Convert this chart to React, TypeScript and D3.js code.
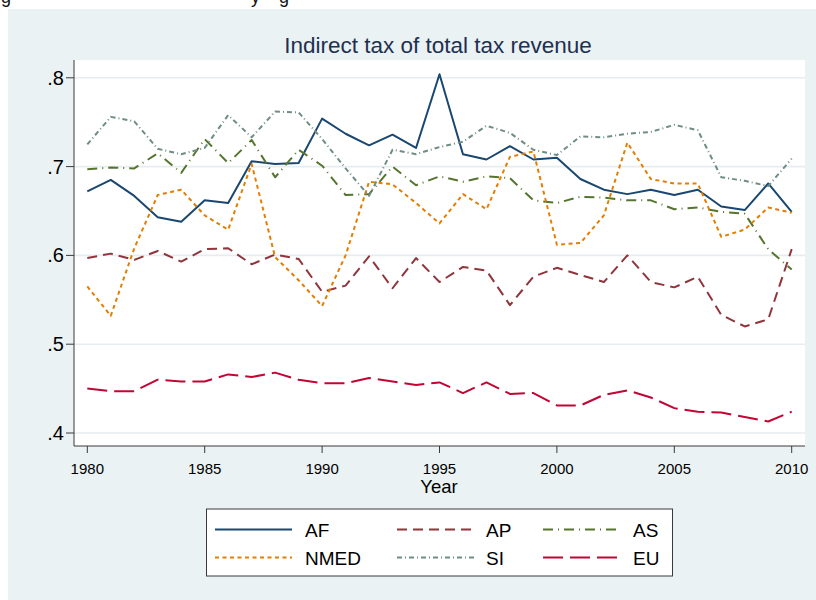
import React from 'react';
import * as d3 from 'd3';

const years = [1980, 1981, 1982, 1983, 1984, 1985, 1986, 1987, 1988, 1989, 1990, 1991, 1992, 1993, 1994, 1995, 1996, 1997, 1998, 1999, 2000, 2001, 2002, 2003, 2004, 2005, 2006, 2007, 2008, 2009, 2010];

const AF = [0.672, 0.685, 0.667, 0.643, 0.638, 0.662, 0.659, 0.706, 0.703, 0.704, 0.754, 0.737, 0.724, 0.736, 0.721, 0.804, 0.714, 0.708, 0.723, 0.708, 0.710, 0.686, 0.674, 0.669, 0.674, 0.668, 0.674, 0.655, 0.651, 0.681, 0.649];
const AP = [0.597, 0.602, 0.595, 0.605, 0.593, 0.607, 0.608, 0.590, 0.601, 0.596, 0.559, 0.566, 0.599, 0.563, 0.597, 0.570, 0.587, 0.583, 0.544, 0.576, 0.586, 0.578, 0.570, 0.600, 0.570, 0.564, 0.576, 0.533, 0.520, 0.528, 0.607];
const AS = [0.697, 0.699, 0.698, 0.715, 0.693, 0.731, 0.704, 0.730, 0.688, 0.719, 0.701, 0.668, 0.669, 0.700, 0.679, 0.689, 0.683, 0.689, 0.687, 0.662, 0.659, 0.666, 0.665, 0.662, 0.662, 0.652, 0.654, 0.649, 0.647, 0.607, 0.584];
const NMED = [0.565, 0.532, 0.608, 0.668, 0.674, 0.645, 0.629, 0.703, 0.598, 0.572, 0.543, 0.600, 0.683, 0.680, 0.659, 0.636, 0.669, 0.652, 0.711, 0.717, 0.612, 0.614, 0.645, 0.727, 0.686, 0.681, 0.681, 0.621, 0.629, 0.654, 0.648];
const SI = [0.725, 0.756, 0.751, 0.720, 0.714, 0.721, 0.758, 0.733, 0.762, 0.761, 0.731, 0.698, 0.667, 0.719, 0.714, 0.722, 0.728, 0.746, 0.738, 0.719, 0.713, 0.734, 0.733, 0.737, 0.739, 0.747, 0.741, 0.688, 0.684, 0.678, 0.709];
const EU = [0.450, 0.447, 0.447, 0.460, 0.458, 0.458, 0.466, 0.463, 0.468, 0.460, 0.456, 0.456, 0.462, 0.458, 0.454, 0.457, 0.445, 0.457, 0.444, 0.445, 0.431, 0.431, 0.443, 0.448, 0.440, 0.428, 0.424, 0.423, 0.418, 0.413, 0.424];

const seriesNames = ['AF', 'AP', 'AS', 'NMED', 'SI', 'EU'];
const seriesValues = [AF, AP, AS, NMED, SI, EU];

const yTicks = [0.4, 0.5, 0.6, 0.7, 0.8];
const yTickLabels = ['.4', '.5', '.6', '.7', '.8'];
const xTicks = [1980, 1985, 1990, 1995, 2000, 2005, 2010];

const title = 'Indirect tax of total tax revenue';
const xTitle = 'Year';

const colors: Record<string, string> = {
  AF: '#1a476f',
  AP: '#90353b',
  AS: '#55752f',
  NMED: '#e37e00',
  SI: '#6e8e84',
  EU: '#c10534',
};
const dashes: Record<string, string> = {
  AF: 'none',
  AP: '10,6',
  AS: '10,5,1,5',
  NMED: '4,3.5',
  SI: '5,3,1,3',
  EU: '20,7',
};

const FONT = "'Liberation Sans', Arial, Helvetica, sans-serif";

export default function App() {
  const W = 816;
  const H = 600;
  const plot = { left: 74, right: 805, top: 60, bottom: 446 };
  const x = d3.scaleLinear().domain([1980, 2010]).range([87.3, 791.7]);
  const y = d3.scaleLinear().domain([0.4, 0.8]).range([433, 77.8]);
  const line = d3
    .line<number>()
    .x((_, i) => x(years[i]))
    .y((d) => y(d));

  // legend layout
  const legend = { x: 206.5, y: 509, w: 466, h: 67 };
  const colX = [215, 397, 543];
  const labX = [305, 486, 633];
  const rowY = [529.5, 557.5];

  return (
    <svg
      width={W}
      height={H}
      viewBox={`0 0 ${W} ${H}`}
      style={{ position: 'absolute', left: 0, top: 0, display: 'block' }}
      fontFamily={FONT}
    >
      <rect x={0} y={0} width={W} height={H} fill="#ffffff" />
      {/* cut-off text from document above */}
      <text x={1} y={3} fontSize={18} fill="#111">g</text>
      <text x={251} y={3} fontSize={18} fill="#111">y</text>
      <text x={279} y={3} fontSize={18} fill="#111">g</text>

      <rect x={8} y={9} width={W - 8} height={H - 9} fill="#eaf2f3" />
      <rect
        x={plot.left}
        y={plot.top}
        width={plot.right - plot.left}
        height={plot.bottom - plot.top}
        fill="#ffffff"
      />
      {/* gridlines */}
      {yTicks.map((t) => (
        <line
          key={'g' + t}
          x1={plot.left}
          x2={plot.right}
          y1={y(t)}
          y2={y(t)}
          stroke="#e5edf0"
          strokeWidth={1.6}
        />
      ))}
      {/* axes */}
      <line x1={plot.left} x2={plot.left} y1={plot.top} y2={plot.bottom} stroke="#3a3a3a" strokeWidth={1} />
      <line x1={plot.left} x2={plot.right} y1={plot.bottom} y2={plot.bottom} stroke="#3a3a3a" strokeWidth={1} />
      {yTicks.map((t, i) => (
        <g key={'yt' + t}>
          <line x1={plot.left - 8} x2={plot.left} y1={y(t)} y2={y(t)} stroke="#3a3a3a" strokeWidth={1} />
          <text x={plot.left - 10} y={y(t) + 7} fontSize={20} textAnchor="end" fill="#000">
            {yTickLabels[i]}
          </text>
        </g>
      ))}
      {xTicks.map((t) => (
        <g key={'xt' + t}>
          <line x1={x(t)} x2={x(t)} y1={plot.bottom} y2={plot.bottom + 7} stroke="#3a3a3a" strokeWidth={1} />
          <text x={x(t)} y={474} fontSize={15} textAnchor="middle" fill="#000">
            {t}
          </text>
        </g>
      ))}
      <text x={439} y={493} fontSize={18.5} textAnchor="middle" fill="#000">
        {xTitle}
      </text>
      <text x={438} y={53} fontSize={22.5} textAnchor="middle" fill="#1e3050">
        {title}
      </text>

      {/* series */}
      {seriesNames.map((name, i) => (
        <path
          key={name}
          d={line(seriesValues[i]) || ''}
          fill="none"
          stroke={colors[name]}
          strokeWidth={2}
          strokeDasharray={dashes[name]}
          strokeLinejoin="round"
        />
      ))}

      {/* legend */}
      <rect
        x={legend.x}
        y={legend.y}
        width={legend.w}
        height={legend.h}
        fill="#ffffff"
        stroke="#3a3a3a"
        strokeWidth={1}
      />
      {seriesNames.map((name, i) => {
        const col = i % 3;
        const row = Math.floor(i / 3);
        return (
          <g key={'lg' + name}>
            <line
              x1={colX[col]}
              x2={colX[col] + 77}
              y1={rowY[row]}
              y2={rowY[row]}
              stroke={colors[name]}
              strokeWidth={2}
              strokeDasharray={dashes[name]}
            />
            <text x={labX[col]} y={rowY[row] + 7} fontSize={19} fill="#000">
              {name}
            </text>
          </g>
        );
      })}
    </svg>
  );
}
